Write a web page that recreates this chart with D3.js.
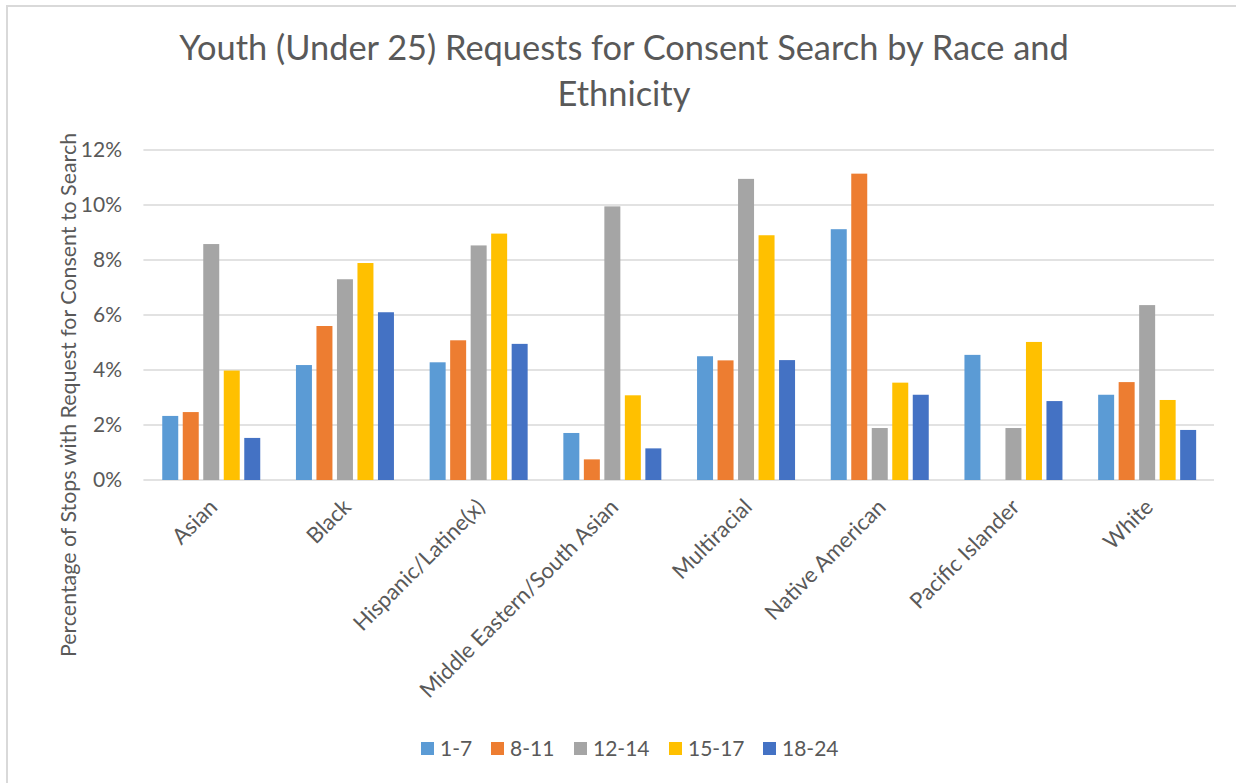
<!DOCTYPE html>
<html>
<head>
<meta charset="utf-8">
<script src="https://cdn.jsdelivr.net/npm/d3@7"></script>
<style>
  body { margin: 0; background: #fff; }
  svg text { font-family: Lato, "Open Sans", sans-serif; fill: #595959; }
</style>
</head>
<body>
<div id="chart"></div>
<script>
// categories and series
var races = ["Asian", "Black", "Hispanic/Latine(x)", "Middle Eastern/South Asian",
             "Multiracial", "Native American", "Pacific Islander", "White"];
var ages = ["1-7", "8-11", "12-14", "15-17", "18-24"];
var colors = ["#5B9BD5", "#ED7D31", "#A5A5A5", "#FFC000", "#4472C4"];

// percent of stops, one array per age group (same order as races)
var age_1_7   = [2.33, 4.18, 4.28, 1.71, 4.50, 9.12, 4.55, 3.10];
var age_8_11  = [2.47, 5.60, 5.08, 0.75, 4.35, 11.14, 0, 3.56];
var age_12_14 = [8.58, 7.30, 8.53, 9.95, 10.95, 1.89, 1.89, 6.36];
var age_15_17 = [3.98, 7.89, 8.96, 3.08, 8.90, 3.54, 5.02, 2.91];
var age_18_24 = [1.53, 6.10, 4.95, 1.15, 4.36, 3.10, 2.87, 1.82];
var series = [age_1_7, age_8_11, age_12_14, age_15_17, age_18_24];

var yTicks = [0, 2, 4, 6, 8, 10, 12];

var W = 1236, H = 783;
var plot = {left: 144.4, right: 1214, top: 150, bottom: 480};

var svg = d3.select("#chart").append("svg")
    .attr("width", W)
    .attr("height", H);

// chart frame
svg.append("path")
    .attr("d", "M7,790 L7,6 L1240,6")
    .attr("fill", "none")
    .attr("stroke", "#d9d9d9")
    .attr("stroke-width", 2);

// scales
var y = d3.scaleLinear()
    .domain([0, 12])
    .range([plot.bottom, plot.top]);

var x0 = d3.scaleBand()
    .domain(races)
    .range([plot.left, plot.right])
    .paddingInner(0.267)
    .paddingOuter(0.1335);

var x1 = d3.scaleBand()
    .domain(ages)
    .range([0, x0.bandwidth()])
    .paddingInner(0.22);

// gridlines
svg.append("g").selectAll("line")
    .data(yTicks)
    .enter()
    .append("line")
    .attr("x1", plot.left - 1)
    .attr("x2", plot.right)
    .attr("y1", function(d) { return y(d); })
    .attr("y2", function(d) { return y(d); })
    .attr("stroke", "#d9d9d9")
    .attr("stroke-width", 1.3);

// y tick labels
svg.append("g").selectAll("text")
    .data(yTicks)
    .enter()
    .append("text")
    .attr("x", 122)
    .attr("y", function(d) { return y(d); })
    .attr("dy", "0.35em")
    .attr("text-anchor", "end")
    .attr("font-size", 21)
    .text(function(d) { return d + "%"; });

// bars
var groups = svg.append("g").selectAll("g")
    .data(races)
    .enter()
    .append("g")
    .attr("transform", function(d) { return "translate(" + x0(d) + ",0)"; });

groups.selectAll("rect")
    .data(function(d, i) {
        return ages.map(function(a, j) { return {age: a, idx: j, value: series[j][i]}; });
    })
    .enter()
    .append("rect")
    .attr("x", function(d) { return x1(d.age); })
    .attr("width", x1.bandwidth())
    .attr("y", function(d) { return y(d.value); })
    .attr("height", function(d) { return y(0) - y(d.value); })
    .attr("fill", function(d) { return colors[d.idx]; });

// x category labels
svg.append("g").selectAll("text")
    .data(races)
    .enter()
    .append("text")
    .attr("transform", function(d) {
        return "translate(" + (x0(d) + x0.bandwidth() / 2 + 2) + ",503) rotate(-45)";
    })
    .attr("dy", "0.35em")
    .attr("text-anchor", "end")
    .attr("font-size", 22)
    .text(function(d) { return d; });

// y axis title
svg.append("text")
    .attr("transform", "translate(68," + ((plot.top + plot.bottom) / 2 + 80) + ") rotate(-90)")
    .attr("dy", "0.35em")
    .attr("text-anchor", "middle")
    .attr("font-size", 21.4)
    .text("Percentage of Stops with Request for Consent to Search");

// title
var title = svg.append("text")
    .attr("text-anchor", "middle")
    .attr("font-size", 34.4);
title.append("tspan").attr("x", 624).attr("y", 60)
    .text("Youth (Under 25) Requests for Consent Search by Race and");
title.append("tspan").attr("x", 624).attr("y", 106)
    .text("Ethnicity");

// legend
var legendX = [421, 491, 574, 669, 763];
var legend = svg.append("g").selectAll("g")
    .data(ages)
    .enter()
    .append("g")
    .attr("transform", function(d, i) { return "translate(" + legendX[i] + ",742)"; });

legend.append("rect")
    .attr("width", 13)
    .attr("height", 13)
    .attr("fill", function(d, i) { return colors[i]; });

legend.append("text")
    .attr("x", 19)
    .attr("y", 7)
    .attr("dy", "0.35em")
    .attr("font-size", 21)
    .text(function(d) { return d; });
</script>
</body>
</html>
